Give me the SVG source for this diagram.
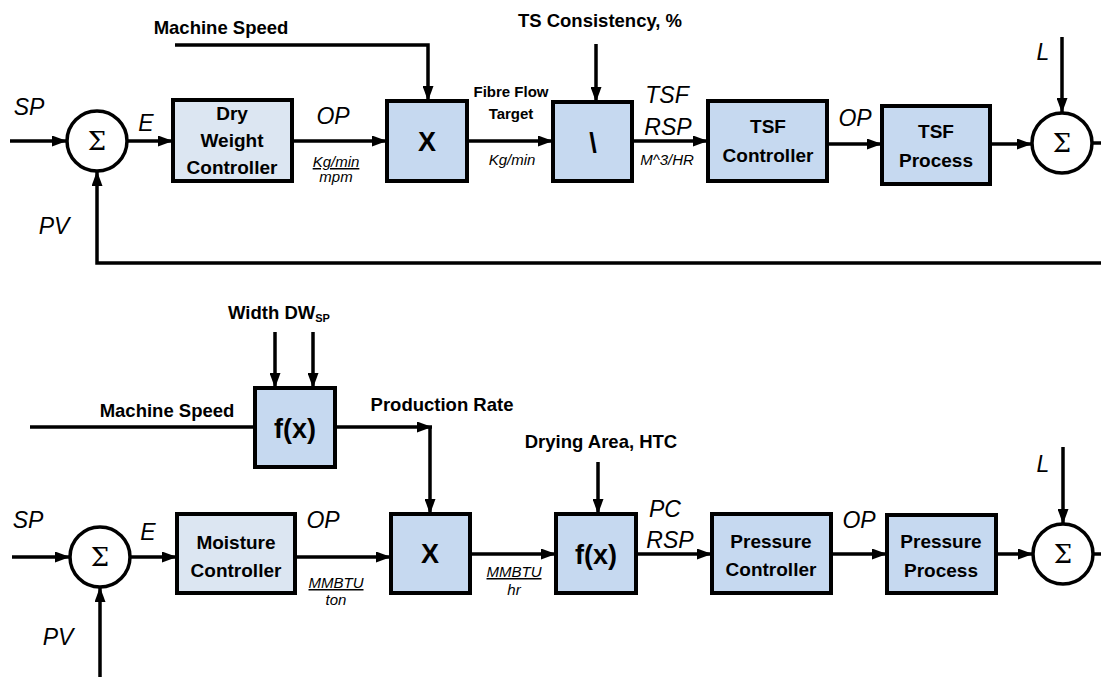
<svg xmlns="http://www.w3.org/2000/svg" width="1101" height="677" viewBox="0 0 1101 677">
<defs>
<marker id="ah" markerUnits="userSpaceOnUse" markerWidth="15" markerHeight="11" refX="15" refY="5.5" orient="auto">
<path d="M0,0 L15,5.5 L0,11 z" fill="#000"/>
</marker>
<style>
.box{fill:#c6d9f0;stroke:#000;stroke-width:4}
.ctl{fill:#dce6f2;stroke:#000;stroke-width:4}
.sum{fill:#fff;stroke:#000;stroke-width:3.5}
.ln{fill:none;stroke:#000;stroke-width:3.5}
.ar{fill:none;stroke:#000;stroke-width:3.5;marker-end:url(#ah)}
.bl{font-family:"Liberation Sans",Arial,sans-serif;font-weight:bold;font-size:18.5px;fill:#000;text-anchor:middle}
.bx{font-family:"Liberation Sans",Arial,sans-serif;font-weight:bold;font-size:19px;fill:#000;text-anchor:middle}
.big{font-family:"Liberation Sans",Arial,sans-serif;font-weight:bold;font-size:27px;fill:#000;text-anchor:middle}
.it{font-family:"Liberation Sans",Arial,sans-serif;font-style:italic;font-size:23px;fill:#000;text-anchor:middle}
.sm{font-family:"Liberation Sans",Arial,sans-serif;font-style:italic;font-size:15px;fill:#000;text-anchor:middle}
.smb{font-family:"Liberation Sans",Arial,sans-serif;font-weight:bold;font-size:15px;fill:#000;text-anchor:middle}
.sig{font-family:"DejaVu Serif","Liberation Serif",serif;font-size:26px;fill:#000;text-anchor:middle}
</style>
</defs>

<g id="connectors">
<path class="ar" d="M10,141 L67,141"/>
<path class="ar" d="M127,141 L173,141"/>
<path class="ar" d="M292,141 L387,141"/>
<path class="ar" d="M175,45 L428,45 L428,101"/>
<path class="ar" d="M467,141 L553,141"/>
<path class="ar" d="M596,44 L596,102"/>
<path class="ar" d="M632,141 L708,141"/>
<path class="ar" d="M827,144 L882,144"/>
<path class="ar" d="M990,144 L1032,144"/>
<path class="ar" d="M1062,37 L1062,113"/>
<path class="ln" d="M1092,143 L1101,143"/>
<path class="ar" d="M1101,263 L97,263 L97,171"/>
<path class="ar" d="M275,332 L275,388"/>
<path class="ar" d="M313,332 L313,388"/>
<path class="ln" d="M30,427 L255,427"/>
<path class="ar" d="M335,427 L432,427"/>
<path class="ar" d="M430,427 L430,514"/>
<path class="ar" d="M12,557 L70,557"/>
<path class="ar" d="M130,557 L177,557"/>
<path class="ar" d="M295,557 L391,557"/>
<path class="ar" d="M470,554 L556,554"/>
<path class="ar" d="M598,462 L598,514"/>
<path class="ar" d="M636,554 L712,554"/>
<path class="ar" d="M831,554 L887,554"/>
<path class="ar" d="M996,554 L1033,554"/>
<path class="ar" d="M1063,447 L1063,524"/>
<path class="ln" d="M1093,554 L1101,554"/>
<path class="ar" d="M100,677 L100,587"/>
</g>

<g id="labels">
<text class="bl" x="221" y="34">Machine Speed</text>
<text class="bl" x="600" y="27">TS Consistency, %</text>
<text class="it" x="29" y="115">SP</text>
<text class="it" x="146" y="131">E</text>
<text class="it" x="333" y="124">OP</text>
<text class="sm" x="336" y="167" text-decoration="underline">Kg/min</text>
<text class="sm" x="336" y="182">mpm</text>
<text class="it" x="54" y="234">PV</text>
<text class="smb" x="511" y="97">Fibre Flow</text>
<text class="smb" x="511" y="119">Target</text>
<text class="sm" x="512" y="165">Kg/min</text>
<text class="it" x="667" y="103">TSF</text>
<text class="it" x="668" y="135">RSP</text>
<text class="sm" x="667" y="165">M^3/HR</text>
<text class="it" x="855" y="126">OP</text>
<text class="it" x="1043" y="60">L</text>

<text class="bl" x="279" y="319">Width DW<tspan font-size="11" dy="3">SP</tspan></text>
<text class="bl" x="167" y="417">Machine Speed</text>
<text class="bl" x="442" y="411">Production Rate</text>
<text class="bl" x="601" y="448">Drying Area, HTC</text>
<text class="it" x="28" y="528">SP</text>
<text class="it" x="148" y="540">E</text>
<text class="it" x="323" y="528">OP</text>
<text class="sm" x="336" y="588" text-decoration="underline">MMBTU</text>
<text class="sm" x="336" y="605">ton</text>
<text class="it" x="58" y="645">PV</text>
<text class="sm" x="514" y="577" text-decoration="underline">MMBTU</text>
<text class="sm" x="514" y="595">hr</text>
<text class="it" x="665" y="517">PC</text>
<text class="it" x="670" y="548">RSP</text>
<text class="it" x="859" y="528">OP</text>
<text class="it" x="1043" y="472">L</text>
</g>

<g id="sum1"><circle class="sum" cx="97" cy="141" r="30"/><text class="sig" x="97" y="150">Σ</text></g>
<g id="dwc"><rect class="ctl" x="173" y="100" width="119" height="81"/><text class="bx" x="232" y="120">Dry</text><text class="bx" x="232" y="147">Weight</text><text class="bx" x="232" y="174">Controller</text></g>
<g id="mult1"><rect class="box" x="387" y="101" width="80" height="80"/><text class="big" x="427" y="151">X</text></g>
<g id="div1"><rect class="box" x="553" y="102" width="79" height="79"/><text class="big" x="593" y="152" font-size="30">\</text></g>
<g id="tsfc"><rect class="box" x="708" y="101" width="119" height="80"/><text class="bx" x="768" y="133">TSF</text><text class="bx" x="768" y="162">Controller</text></g>
<g id="tsfp"><rect class="box" x="882" y="106" width="108" height="78"/><text class="bx" x="936" y="138">TSF</text><text class="bx" x="936" y="167">Process</text></g>
<g id="sum2"><circle class="sum" cx="1062" cy="143" r="30"/><text class="sig" x="1062" y="152">Σ</text></g>

<g id="fx1"><rect class="box" x="255" y="388" width="80" height="79"/><text class="big" x="295" y="438" font-size="30">f(x)</text></g>
<g id="sum3"><circle class="sum" cx="100" cy="557" r="30"/><text class="sig" x="100" y="566">Σ</text></g>
<g id="mc"><rect class="ctl" x="177" y="514" width="118" height="79"/><text class="bx" x="236" y="549">Moisture</text><text class="bx" x="236" y="577">Controller</text></g>
<g id="mult2"><rect class="box" x="391" y="514" width="79" height="79"/><text class="big" x="430" y="563">X</text></g>
<g id="fx2"><rect class="box" x="556" y="514" width="80" height="79"/><text class="big" x="596" y="564" font-size="30">f(x)</text></g>
<g id="pc"><rect class="box" x="712" y="514" width="119" height="79"/><text class="bx" x="771" y="548">Pressure</text><text class="bx" x="771" y="576">Controller</text></g>
<g id="pp"><rect class="box" x="887" y="515" width="109" height="78"/><text class="bx" x="941" y="548">Pressure</text><text class="bx" x="941" y="577">Process</text></g>
<g id="sum4"><circle class="sum" cx="1063" cy="554" r="30"/><text class="sig" x="1063" y="563">Σ</text></g>
</svg>
